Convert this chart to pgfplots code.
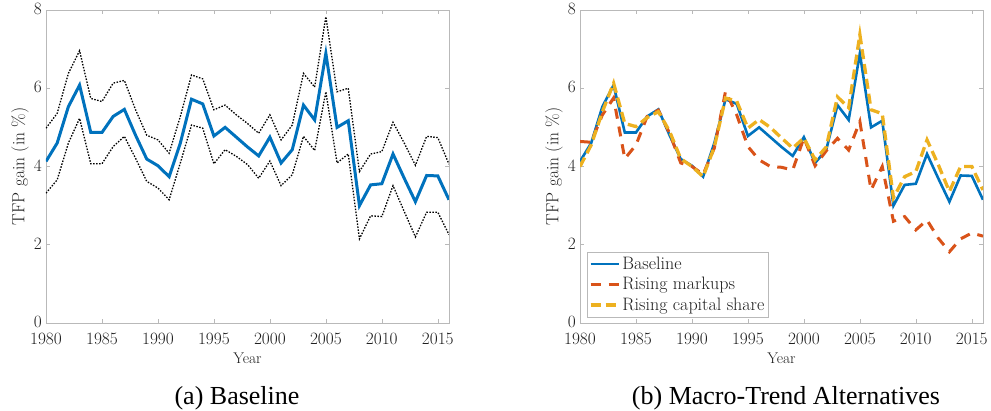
\documentclass[border=0pt]{standalone}
\usepackage{fontspec}
\newfontfamily\capfont{Liberation Serif}
\usepackage{pgfplots}
\usepackage{pgfplotstable}
\pgfplotsset{compat=1.18}
\definecolor{mblue}{rgb}{0,0.447,0.741}
\definecolor{mred}{rgb}{0.85,0.325,0.098}
\definecolor{myellow}{rgb}{0.929,0.694,0.125}

\pgfplotstableread{
year base up lo mk cap
1980 4.13 4.98 3.32 4.64 4.00
1981 4.60 5.36 3.66 4.62 4.55
1982 5.53 6.38 4.60 5.32 5.40
1983 6.08 6.96 5.23 5.75 6.13
1984 4.87 5.74 4.07 4.20 5.10
1985 4.87 5.66 4.07 4.55 5.02
1986 5.28 6.13 4.51 5.28 5.25
1987 5.46 6.20 4.77 5.44 5.40
1988 4.80 5.45 4.21 4.85 4.90
1989 4.19 4.80 3.62 4.09 4.20
1990 4.02 4.68 3.45 4.00 4.00
1991 3.74 4.34 3.15 3.80 3.74
1992 4.60 5.28 4.09 4.47 4.50
1993 5.72 6.34 5.06 5.92 5.75
1994 5.60 6.24 4.98 5.32 5.67
1995 4.78 5.45 4.07 4.51 4.98
1996 5.00 5.57 4.43 4.17 5.20
1997 4.75 5.32 4.26 4.00 5.00
1998 4.50 5.10 4.05 3.98 4.73
1999 4.27 4.85 3.70 3.91 4.47
2000 4.75 5.32 4.14 4.73 4.73
2001 4.09 4.68 3.51 4.02 4.17
2002 4.43 5.06 3.79 4.40 4.50
2003 5.57 6.38 4.77 4.72 5.78
2004 5.19 6.03 4.41 4.42 5.50
2005 6.89 7.83 5.91 5.15 7.37
2006 5.00 5.91 4.09 3.40 5.45
2007 5.17 6.00 4.32 4.00 5.35
2008 3.00 3.87 2.15 2.60 3.20
2009 3.53 4.32 2.74 2.72 3.74
2010 3.56 4.38 2.72 2.38 3.87
2011 4.32 5.13 3.51 2.63 4.68
2012 3.70 4.60 2.85 2.17 4.05
2013 3.10 4.03 2.20 1.82 3.36
2014 3.77 4.77 2.83 2.15 4.00
2015 3.76 4.74 2.83 2.30 4.00
2016 3.15 4.06 2.26 2.22 3.40
}\datatable

\pgfplotsset{mystyle/.style={
  width=403pt, height=313pt, scale only axis,
  anchor=south west,
  xmin=1980, xmax=2016, ymin=0, ymax=8,
  xtick={1980,1985,...,2015}, ytick={0,2,...,8},
  tick align=inside, xtick pos=both, ytick pos=both,
  xticklabel pos=bottom, yticklabel pos=left,
  major tick length=4pt,
  axis line style={gray!55, line width=0.6pt},
  tick style={gray!55, line width=0.6pt},
  /pgf/number format/1000 sep={},
  tick label style={font=\fontsize{16.5}{18}\selectfont, text=black!88},
  x tick label style={inner ysep=0pt, yshift=-10pt},
  y tick label style={inner ysep=0pt, inner xsep=4pt, yshift=1pt},
  xlabel={Year}, ylabel={TFP gain (in \%)},
  xlabel style={font=\fontsize{15.5}{18}\selectfont, text=black!88,
     at={([yshift=-35pt]axis description cs:0.5,0)}, anchor=center},
  ylabel style={font=\fontsize{17.5}{18}\selectfont, text=black!88,
     at={([xshift=-26pt]axis description cs:0,0.5)}, anchor=center},
}}

\begin{document}
\begin{tikzpicture}
\path[use as bounding box] (0,0) rectangle (991pt,410pt);
\begin{axis}[mystyle, at={(46pt,87pt)}]
\addplot[black, line width=1.3pt, dash pattern=on 1.5pt off 1.5pt] table[x=year,y=up]{\datatable};
\addplot[black, line width=1.3pt, dash pattern=on 1.5pt off 1.5pt] table[x=year,y=lo]{\datatable};
\addplot[mblue, line width=3pt] table[x=year,y=base]{\datatable};
\end{axis}
\begin{axis}[mystyle, at={(580pt,87pt)},
  legend style={at={(axis description cs:0.017,0.019)}, anchor=south west,
    draw=gray!55, font=\fontsize{18}{20}\selectfont, text=black!88,
    row sep=2.5pt, inner xsep=2pt, inner ysep=3pt},
  legend cell align=left,
  legend image code/.code={\draw[#1] (0pt,0pt) -- (28pt,0pt);}]
\addplot[mblue, line width=2.6pt] table[x=year,y=base]{\datatable};
\addlegendentry{Baseline}
\addplot[mred, line width=3pt, dash pattern=on 10pt off 8pt] table[x=year,y=mk]{\datatable};
\addlegendentry{Rising markups}
\addplot[myellow, line width=3.3pt, dash pattern=on 10pt off 5pt] table[x=year,y=cap]{\datatable};
\addlegendentry{Rising capital share}
\end{axis}
\node[anchor=base, font=\capfont\fontsize{26}{30}\selectfont] at (237pt,5.5pt) {(a) Baseline};
\node[anchor=base, font=\capfont\fontsize{26}{30}\selectfont] at (786pt,5.5pt) {(b) Macro-Trend Alternatives};
\end{tikzpicture}
\end{document}
